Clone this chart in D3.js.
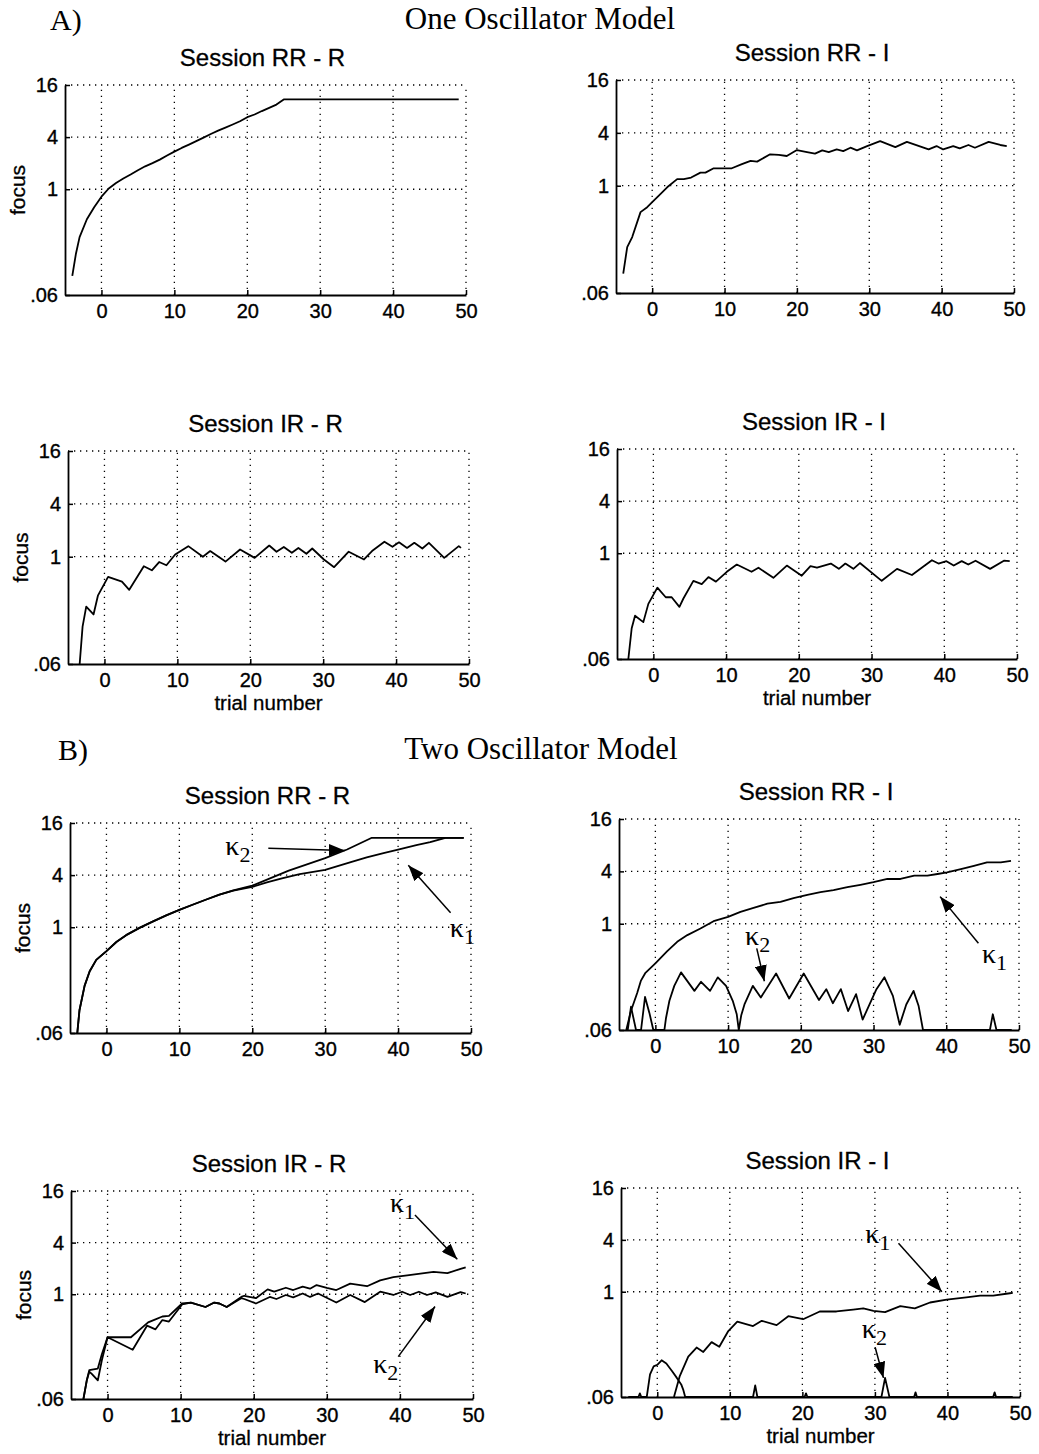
<!DOCTYPE html>
<html><head><meta charset="utf-8">
<script src="https://cdn.jsdelivr.net/npm/d3@7"></script>
<style>
body{margin:0;background:#fff;}
svg{display:block;}
</style></head><body>
<svg id="chart" width="1039" height="1454"></svg>
<script>
// ---------- data ----------
const trialDomain = [-5, 50];
const focusDomain = [0.06, 16];
const trialTicks = [0, 10, 20, 30, 40, 50];
const focusTicks = [0.06, 1, 4, 16];
const focusTickLabels = [".06", "1", "4", "16"];
const sectionLabels = ["A)", "B)"];
const sectionTitles = ["One Oscillator Model", "Two Oscillator Model"];
const sessionTitles = ["Session RR - R", "Session RR - I", "Session IR - R", "Session IR - I"];
const xAxisTitle = "trial number";
const yAxisTitle = "focus";
const kappaSymbol = "κ";

// One oscillator model  [trial, focus]
const oneRR_R = [[-4,0.10],[-3.5,0.18],[-3,0.28],[-2,0.45],[-1,0.62],[0,0.82],[1,1.02],[2,1.18],[3,1.33],[4,1.48],[5,1.66],[6,1.84],[7,2.0],[8,2.2],[9,2.45],[10,2.72],[11,3.0],[12,3.28],[13,3.6],[14,3.95],[15,4.35],[16,4.75],[17,5.15],[18,5.6],[19,6.1],[20,6.8],[21,7.3],[22,8.0],[23,8.7],[24,9.5],[25,10.9],[49,10.9]];
const oneRR_I = [[-4,0.10],[-3.45,0.20],[-2.76,0.26],[-1.61,0.50],[-0.69,0.57],[0,0.65],[0.92,0.77],[2.07,0.96],[3.45,1.19],[4.37,1.19],[5.38,1.24],[6.67,1.41],[7.36,1.41],[8.5,1.58],[11.0,1.58],[12.4,1.76],[13.6,1.92],[14.5,1.88],[16.3,2.28],[17.5,2.24],[18.6,2.18],[20.0,2.55],[21.4,2.42],[22.5,2.32],[23.5,2.53],[24.4,2.42],[25.5,2.59],[26.4,2.48],[27.4,2.71],[28.3,2.53],[29.7,2.83],[31.5,3.22],[33.6,2.75],[35.2,3.16],[38.2,2.59],[39.3,2.83],[40.2,2.59],[41.6,2.83],[42.5,2.66],[43.7,2.91],[44.6,2.71],[46.5,3.16],[48.1,2.91],[49.0,2.83]];
const oneIR_R = [[-3.4,0.06],[-3.0,0.16],[-2.5,0.27],[-1.5,0.22],[-0.9,0.36],[0.5,0.59],[2.4,0.52],[3.4,0.42],[5.4,0.78],[6.5,0.70],[7.5,0.87],[8.5,0.80],[9.7,1.06],[11.5,1.32],[13.5,1.0],[14.5,1.16],[16.6,0.88],[18.6,1.21],[20.6,0.97],[22.6,1.34],[23.6,1.14],[24.6,1.29],[25.7,1.11],[26.6,1.26],[27.7,1.08],[28.5,1.24],[30.1,0.93],[31.5,0.76],[33.5,1.14],[35.6,0.93],[36.7,1.16],[38.4,1.48],[39.5,1.30],[40.4,1.46],[41.5,1.26],[42.5,1.44],[43.6,1.24],[44.5,1.44],[46.6,0.97],[48.6,1.32],[48.9,1.26]];
const oneIR_I = [[-3.44,0.06],[-2.98,0.136],[-2.52,0.19],[-1.38,0.16],[-0.69,0.26],[0.55,0.40],[1.7,0.31],[2.52,0.31],[3.58,0.24],[4.13,0.30],[5.5,0.48],[6.65,0.44],[7.57,0.53],[8.6,0.47],[10.1,0.61],[11.47,0.74],[13.5,0.61],[14.45,0.68],[16.5,0.52],[18.35,0.72],[20.4,0.55],[21.6,0.71],[22.5,0.68],[24.4,0.76],[25.5,0.66],[26.4,0.76],[27.5,0.66],[28.4,0.77],[31.4,0.48],[33.5,0.66],[35.55,0.56],[38.3,0.83],[39.2,0.76],[40.3,0.81],[41.3,0.72],[42.4,0.81],[43.3,0.74],[44.3,0.82],[46.3,0.66],[48.2,0.82],[49.0,0.81]];

// Two oscillator model  [trial, focus]
const twoRR_R_k1 = [[-4,0.06],[-3.7,0.11],[-3,0.21],[-2.3,0.31],[-1.4,0.42],[0,0.53],[1.4,0.68],[2.7,0.81],[4.6,0.99],[6.4,1.17],[8.2,1.37],[10,1.59],[11.9,1.83],[13.7,2.09],[15.5,2.38],[17.4,2.65],[20,2.92],[22,3.3],[24.2,3.7],[26.5,4.1],[30,4.6],[33.4,5.6],[35.7,6.4],[38,7.2],[40,7.9],[42.5,8.9],[44.4,9.6],[46,10.5],[46.5,10.8],[49,10.8]];
const twoRR_R_k2 = [[-4,0.06],[-3.7,0.11],[-3,0.21],[-2.3,0.31],[-1.4,0.42],[0,0.53],[1.4,0.68],[2.7,0.81],[4.6,0.99],[6.4,1.17],[8.2,1.37],[10,1.59],[11.9,1.83],[13.7,2.09],[15.5,2.38],[17.4,2.67],[20,3.02],[25,4.5],[30,6.3],[33,7.9],[36.4,10.8],[49,10.8]];
const twoRR_I_k1 = [[-4,0.06],[-3.35,0.10],[-2.5,0.16],[-2.0,0.22],[-1.4,0.27],[0,0.35],[1.6,0.48],[3.0,0.62],[4.4,0.74],[6.2,0.88],[8.0,1.07],[10.0,1.20],[11.7,1.37],[13.5,1.52],[15.4,1.70],[17.2,1.78],[19.0,1.97],[20.9,2.15],[22.7,2.31],[24.5,2.43],[26.4,2.63],[28.2,2.80],[30.0,3.0],[31.9,3.27],[33.7,3.27],[35.6,3.57],[37.4,3.57],[38.8,3.73],[40.1,3.90],[42.0,4.25],[43.8,4.64],[45.6,5.07],[47.5,5.07],[48.9,5.28]];
const twoRR_I_k2 = [[-4,0.06],[-3.8,0.06],[-3.35,0.111],[-2.66,0.06],[-1.97,0.06],[-1.42,0.144],[-0.83,0.095],[-0.28,0.06],[1.24,0.06],[1.47,0.083],[1.93,0.13],[2.6,0.193],[3.53,0.276],[5.37,0.169],[6.28,0.215],[7.52,0.169],[8.58,0.242],[9.72,0.193],[10.64,0.13],[11.19,0.091],[11.47,0.06],[11.8,0.088],[12.25,0.118],[13.4,0.193],[14.5,0.142],[16.6,0.268],[18.4,0.138],[20.4,0.268],[22.5,0.133],[23.5,0.177],[24.4,0.122],[25.5,0.177],[26.5,0.099],[27.6,0.155],[28.5,0.079],[30.4,0.177],[31.5,0.242],[32.66,0.148],[33.6,0.069],[34.5,0.118],[35.5,0.169],[36.2,0.113],[36.8,0.06],[46.0,0.06],[46.4,0.091],[46.9,0.06],[49,0.06]];
const twoIR_R_k1 = [[-3.3,0.06],[-2.84,0.099],[-2.5,0.13],[-1.33,0.136],[-0.78,0.20],[0,0.315],[3.2,0.315],[5.55,0.47],[6.56,0.51],[7.5,0.55],[8.4,0.56],[10.2,0.78],[11.4,0.80],[13.4,0.71],[14.6,0.80],[15.3,0.78],[16.3,0.71],[18.3,0.93],[18.7,0.96],[20.3,0.90],[21.9,1.14],[22.8,1.07],[24.4,1.19],[25.4,1.12],[26.7,1.23],[27.7,1.16],[28.6,1.28],[30.0,1.19],[31.3,1.12],[33.2,1.33],[35.5,1.24],[37.3,1.45],[39.1,1.58],[41.0,1.66],[42.8,1.74],[44.6,1.82],[46.5,1.76],[48.3,1.98],[49.0,2.06]];
const twoIR_R_k2 = [[-3.3,0.06],[-2.84,0.099],[-2.5,0.125],[-2.16,0.118],[-1.33,0.099],[-0.78,0.17],[0,0.315],[3.44,0.225],[5.4,0.43],[6.56,0.39],[7.5,0.50],[8.4,0.48],[10.2,0.76],[11.4,0.80],[13.4,0.71],[14.6,0.80],[15.3,0.78],[16.3,0.71],[18.3,0.90],[18.7,0.88],[20.3,0.78],[22.2,0.93],[23.1,0.88],[24.4,0.98],[25.4,0.92],[26.7,1.02],[27.7,0.93],[28.8,1.02],[31.3,0.80],[33.2,0.98],[35.2,0.81],[37.3,1.07],[39.1,0.98],[40.3,1.07],[41.4,0.98],[42.6,1.07],[43.7,0.98],[44.9,1.05],[46.5,0.93],[48.3,1.06],[49.0,1.02]];
const twoIR_I_k1 = [[2.3,0.06],[3.1,0.105],[4.27,0.177],[5.42,0.225],[6.34,0.20],[7.49,0.26],[8.55,0.23],[9.79,0.35],[11.03,0.45],[13.2,0.40],[14.4,0.46],[16.45,0.41],[18.06,0.52],[20.1,0.48],[22.4,0.59],[24.7,0.59],[27.0,0.62],[28.4,0.64],[29.8,0.60],[31.4,0.58],[33.5,0.68],[35.5,0.64],[37.6,0.75],[39.9,0.81],[42.6,0.86],[44.5,0.90],[46.3,0.90],[48.6,0.96],[49.0,0.97]];
const twoIR_I_k2 = [[-4,0.06],[-2.6,0.06],[-2.4,0.066],[-2.2,0.06],[-1.45,0.06],[-1.0,0.11],[-0.5,0.136],[0,0.142],[0.6,0.16],[1.25,0.147],[2.1,0.118],[2.7,0.10],[3.3,0.084],[3.6,0.072],[3.85,0.06],[13.2,0.06],[13.5,0.082],[13.8,0.06],[20.3,0.06],[20.5,0.066],[20.7,0.06],[30.9,0.06],[31.4,0.10],[32.0,0.06],[35.4,0.06],[35.6,0.068],[35.8,0.06],[46.3,0.06],[46.5,0.068],[46.7,0.06],[49,0.06]];

// annotation anchors in data units: label text position, arrow start, arrow tip
const annotations = [
  {panel:"B1", sub:"2", text:[16.3,6.8],  from:[22.2,8.2],  to:[32.7,7.7]},
  {panel:"B1", sub:"1", text:[47.1,0.77], from:[47.2,1.47], to:[41.4,5.2]},
  {panel:"B2", sub:"2", text:[12.33,0.57],from:[13.94,0.52],to:[14.99,0.218]},
  {panel:"B2", sub:"1", text:[44.9,0.354],from:[44.42,0.595],to:[39.15,2.05]},
  {panel:"B3", sub:"1", text:[38.64,9.1], from:[42.06,8.4], to:[47.85,2.56]},
  {panel:"B3", sub:"2", text:[36.35,0.121],from:[39.77,0.187],to:[44.8,0.72]},
  {panel:"B4", sub:"1", text:[28.66,3.68],from:[33.25,3.66],to:[39.23,1.0]},
  {panel:"B4", sub:"2", text:[28.2,0.29], from:[30.03,0.227],to:[31.18,0.10]}
];

// ---------- layout (pixel frames of each axes box) ----------
const layout = [
  {id:"A1", box:[65,466,85,295],    title:0, series:[oneRR_R], yLab:true,  xLab:false},
  {id:"A2", box:[616,1014,80,293],  title:1, series:[oneRR_I], yLab:false, xLab:false},
  {id:"A3", box:[68,469,451,664],   title:2, series:[oneIR_R], yLab:true,  xLab:true},
  {id:"A4", box:[617,1017,449,659], title:3, series:[oneIR_I], yLab:false, xLab:true},
  {id:"B1", box:[70,471,823,1033],  title:0, series:[twoRR_R_k1, twoRR_R_k2], yLab:true,  xLab:false},
  {id:"B2", box:[619,1019,819,1030],title:1, series:[twoRR_I_k1, twoRR_I_k2], yLab:false, xLab:false},
  {id:"B3", box:[71,473,1191,1399], title:2, series:[twoIR_R_k1, twoIR_R_k2], yLab:true,  xLab:true},
  {id:"B4", box:[621,1020,1188,1397],title:3, series:[twoIR_I_k1, twoIR_I_k2], yLab:false, xLab:true}
];

const SANS = "'Liberation Sans', Arial, Helvetica, sans-serif";
const SERIF = "'Liberation Serif', 'Times New Roman', serif";

const svg = d3.select("#chart");
svg.append("rect").attr("width",1039).attr("height",1454).attr("fill","#fff");

const defs = svg.append("defs");
defs.append("marker").attr("id","arrowhead")
  .attr("markerUnits","userSpaceOnUse")
  .attr("markerWidth",17).attr("markerHeight",12)
  .attr("refX",16).attr("refY",6).attr("orient","auto")
  .append("path").attr("d","M0,0 L16,6 L0,12 Z").attr("fill","#000");

// section headers
const headerPos = [{lx:50, cx:540, y:30}, {lx:58, cx:541, y:760}];
headerPos.forEach((h,i)=>{
  svg.append("text").attr("x",h.lx).attr("y",h.y)
    .attr("font-family",SERIF).attr("font-size",30).text(sectionLabels[i]);
  svg.append("text").attr("x",h.cx).attr("y",h.y-1).attr("text-anchor","middle")
    .attr("font-family",SERIF).attr("font-size",31).text(sectionTitles[i]);
});

const scalesById = {};

layout.forEach((p)=>{
  const [l,r,t,b] = p.box;
  const x = d3.scaleLinear().domain(trialDomain).range([l,r]);
  const y = d3.scaleLog().domain(focusDomain).range([b,t]);
  scalesById[p.id] = {x,y};
  const g = svg.append("g").attr("class","panel-"+p.id);

  // dotted grid
  g.append("g").selectAll("line").data(trialTicks).join("line")
    .attr("x1",d=>x(d)).attr("x2",d=>x(d)).attr("y1",b).attr("y2",t)
    .attr("stroke","#000").attr("stroke-width",1.3).attr("stroke-dasharray","1.3,4.7");
  g.append("g").selectAll("line").data(focusTicks.slice(1)).join("line")
    .attr("x1",l).attr("x2",r).attr("y1",d=>y(d)).attr("y2",d=>y(d))
    .attr("stroke","#000").attr("stroke-width",1.3).attr("stroke-dasharray","1.3,4.7");

  // axes
  const xAxis = g.append("g").attr("transform",`translate(0,${b})`)
    .call(d3.axisBottom(x).tickValues(trialTicks).tickFormat(d3.format("d"))
      .tickSizeInner(-5).tickSizeOuter(0).tickPadding(9));
  const yAxis = g.append("g").attr("transform",`translate(${l},0)`)
    .call(d3.axisLeft(y).tickValues(focusTicks).tickFormat((d,i)=>focusTickLabels[i])
      .tickSizeInner(-5).tickSizeOuter(0).tickPadding(7));
  [xAxis,yAxis].forEach(a=>{
    a.attr("font-family",SANS).attr("font-size",20);
    a.select(".domain").attr("stroke","#000").attr("stroke-width",1.8);
    a.selectAll(".tick line").attr("stroke","#000").attr("stroke-width",1.5);
    a.selectAll(".tick text").attr("fill","#000").attr("stroke","#000").attr("stroke-width",0.35);
  });

  // title
  g.append("text").attr("x",(l+r)/2-3).attr("y",t-19).attr("text-anchor","middle")
    .attr("font-family",SANS).attr("font-size",24)
    .attr("stroke","#000").attr("stroke-width",0.3).text(sessionTitles[p.title]);
  if (p.yLab) {
    g.append("text").attr("transform",`translate(${l-40},${(t+b)/2}) rotate(-90)`)
      .attr("text-anchor","middle").attr("font-family",SANS).attr("font-size",21)
      .attr("stroke","#000").attr("stroke-width",0.3).text(yAxisTitle);
  }
  if (p.xLab) {
    g.append("text").attr("x",(l+r)/2).attr("y",b+46).attr("text-anchor","middle")
      .attr("font-family",SANS).attr("font-size",20.5)
      .attr("stroke","#000").attr("stroke-width",0.3).text(xAxisTitle);
  }

  // clipped data lines
  defs.append("clipPath").attr("id","clip-"+p.id)
    .append("rect").attr("x",l).attr("y",t-1).attr("width",r-l).attr("height",b-t+1);
  const line = d3.line().x(d=>x(d[0])).y(d=>y(d[1]));
  g.append("g").attr("clip-path",`url(#clip-${p.id})`)
    .selectAll("path").data(p.series).join("path")
    .attr("d",line).attr("fill","none").attr("stroke","#000")
    .attr("stroke-width",1.8).attr("stroke-linejoin","round");
});

// annotations
annotations.forEach(a=>{
  const {x,y} = scalesById[a.panel];
  svg.append("line")
    .attr("x1",x(a.from[0])).attr("y1",y(a.from[1]))
    .attr("x2",x(a.to[0])).attr("y2",y(a.to[1]))
    .attr("stroke","#000").attr("stroke-width",1.5).attr("marker-end","url(#arrowhead)");
  const tx = svg.append("text").attr("x",x(a.text[0])).attr("y",y(a.text[1]))
    .attr("font-family",SERIF).attr("font-size",28);
  tx.append("tspan").text(kappaSymbol);
  tx.append("tspan").attr("dy",7).attr("font-size",22).text(a.sub);
});
</script></body></html>
